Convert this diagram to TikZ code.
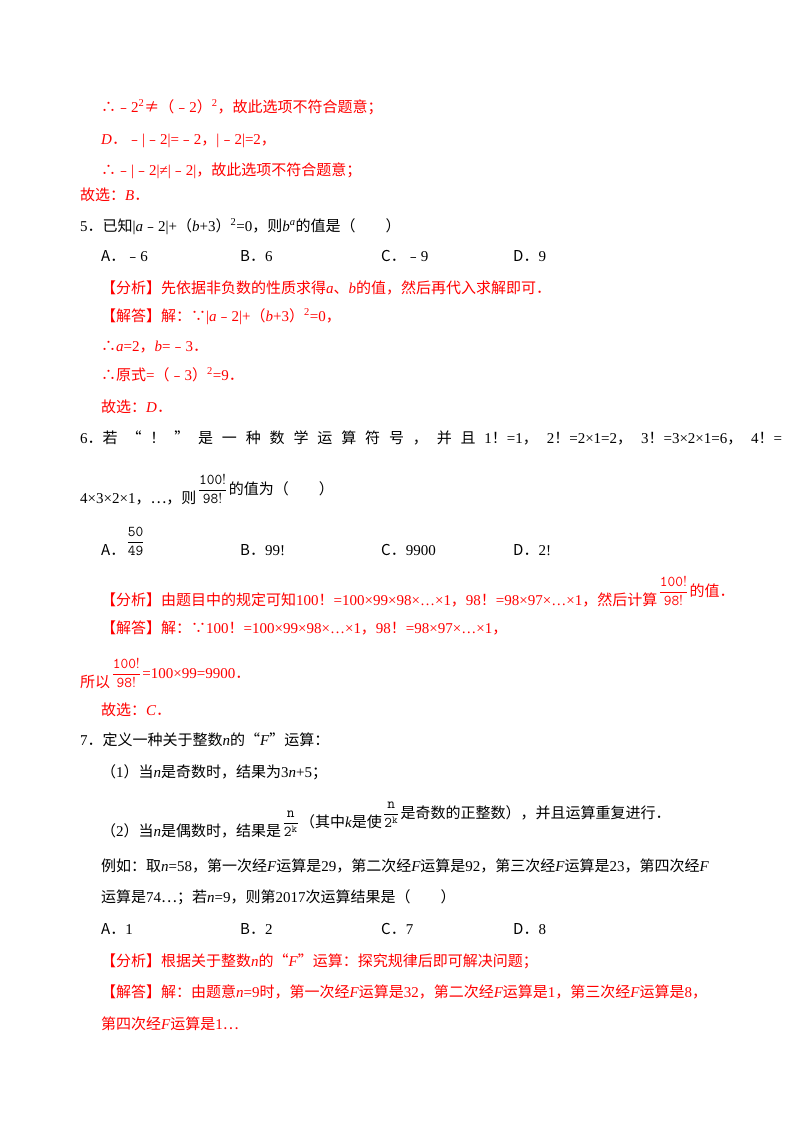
\documentclass[tikz,border=0pt]{standalone}
\usepackage{amsmath}
\usepackage{fontspec}
\setmainfont{Noto Sans CJK SC}
\newfontfamily\lat{Liberation Serif}
\newfontfamily\cjk{Noto Sans CJK SC}
\newcommand{\iv}[1]{{\lat\itshape #1}}
\newcommand{\lr}[1]{{\lat #1}}
\newcommand{\mi}{{\cjk ﹣}}
\newcommand{\fr}[2]{$\genfrac{}{}{0.7pt}{0}{\mathtt{#1}}{\mathtt{#2}}$}
\begin{document}
\begin{tikzpicture}[x=1pt,y=-1pt,
  t/.style={anchor=base west,inner sep=0pt,font=\fontsize{15}{18}\selectfont},
  r/.style={t,text=red},
  f/.style={anchor=base west,inner sep=1pt,yshift=9pt,font=\fontsize{15}{18}\selectfont}]
\useasboundingbox (0,0) rectangle (800,1132);
\fill[white] (0,0) rectangle (800,1132);
\node[r] (l1) at (101,112) {∴\mi\lr{2}\textsuperscript{\lr{2}}≠（\mi\lr{2}）\textsuperscript{\lr{2}}，故此选项不符合题意；};
\node[r] (l2) at (101,144) {\iv{D}．\mi\lr{|}\mi\lr{2|=}\mi\lr{2}，\lr{|}\mi\lr{2|=2}，};
\node[r] (l3) at (101,175) {∴\mi\lr{|}\mi\lr{2|≠|}\mi\lr{2|}，故此选项不符合题意；};
\node[r] (l4) at (80,200) {故选：\iv{B}．};
\node[t] (l5) at (80,231) {\lr{5}．已知\lr{|}\iv{a}\mi\lr{2|+}（\iv{b}\lr{+3}）\textsuperscript{\lr{2}}\lr{=0}，则\iv{b}\textsuperscript{\iv{a}}的值是（　　）};
\node[t] (a5) at (101,261) {A．\mi\lr{6}};
\node[t] (b5) at (240,261) {B．\lr{6}};
\node[t] (c5) at (381,261) {C．\mi\lr{9}};
\node[t] (d5) at (513,261) {D．\lr{9}};
\node[r] (l7) at (101,293) {【分析】先依据非负数的性质求得\iv{a}、\iv{b}的值，然后再代入求解即可．};
\node[r] (l8) at (101,321) {【解答】解：∵\lr{|}\iv{a}\mi\lr{2|+}（\iv{b}\lr{+3}）\textsuperscript{\lr{2}}\lr{=0}，};
\node[r] (l9) at (101,351) {∴\iv{a}\lr{=2}，\iv{b}\lr{=}\mi\lr{3}．};
\node[r] (l10) at (101,380) {∴原式\lr{=}（\mi\lr{3}）\textsuperscript{\lr{2}}\lr{=9}．};
\node[r] (l11) at (101,412) {故选：\iv{D}．};
\node[t] (l12) at (80,443) {\hbox to 702pt{\lr{6}．若\hfill “\hfill ！\hfill ”\hfill 是\hfill 一\hfill 种\hfill 数\hfill 学\hfill 运\hfill 算\hfill 符\hfill 号\hfill ，\hfill 并\hfill 且\hfill \lr{1}！\lr{=1}，\hfill \lr{2}！\lr{=2×1=2}，\hfill \lr{3}！\lr{=3×2×1=6}，\hfill \lr{4}！\lr{=}}};
\node[t] (l13) at (80,503) {\lr{4×3×2×1}，…，则};
\node[f] (q6) at (l13.base east) {\fr{100!}{98!}};
\node[t] (l13b) at (q6.base east) {的值为（　　）};
\node[t] (a6) at (101,555) {A．};
\node[f] (a6f) at (a6.base east) {\fr{50}{49}};
\node[t] (b6) at (240,555) {B．\lr{99!}};
\node[t] (c6) at (381,555) {C．\lr{9900}};
\node[t] (d6) at (513,555) {D．\lr{2!}};
\node[r] (l15) at (101,605) {【分析】由题目中的规定可知\lr{100}！\lr{=100×99×98×…×1}，\lr{98}！\lr{=98×97×…×1}，然后计算};
\node[f,text=red] (f15) at (l15.base east) {\fr{100!}{98!}};
\node[r] (l15b) at (f15.base east) {的值．};
\node[r] (l16) at (101,633) {【解答】解：∵\lr{100}！\lr{=100×99×98×…×1}，\lr{98}！\lr{=98×97×…×1}，};
\node[r] (l17) at (80,687) {所以};
\node[f,text=red] (f17) at (l17.base east) {\fr{100!}{98!}};
\node[r] (l17b) at (f17.base east) {\lr{=100×99=9900}．};
\node[r] (l18) at (101,715) {故选：\iv{C}．};
\node[t] (l19) at (80,745) {\lr{7}．定义一种关于整数\iv{n}的“\iv{F}”运算：};
\node[t] (l20) at (101,777) {（\lr{1}）当\iv{n}是奇数时，结果为\lr{3}\iv{n}\lr{+5}；};
\node[t] (l21) at (101,836) {（\lr{2}）当\iv{n}是偶数时，结果是};
\node[f] (f21) at (l21.base east) {\fr{n}{2^k}};
\node[t] (l21b) at (f21.base east) {（其中\iv{k}是使};
\node[f] (f21b) at (l21b.base east) {\fr{n}{2^k}};
\node[t] (l21c) at (f21b.base east) {是奇数的正整数），并且运算重复进行．};
\node[t] (l22) at (101,871) {例如：取\iv{n}\lr{=58}，第一次经\iv{F}运算是\lr{29}，第二次经\iv{F}运算是\lr{92}，第三次经\iv{F}运算是\lr{23}，第四次经\iv{F}};
\node[t] (l23) at (101,902) {运算是\lr{74}…；若\iv{n}\lr{=9}，则第\lr{2017}次运算结果是（　　）};
\node[t] (a7) at (101,934) {A．\lr{1}};
\node[t] (b7) at (240,934) {B．\lr{2}};
\node[t] (c7) at (381,934) {C．\lr{7}};
\node[t] (d7) at (513,934) {D．\lr{8}};
\node[r] (l25) at (101,966) {【分析】根据关于整数\iv{n}的“\iv{F}”运算：探究规律后即可解决问题；};
\node[r] (l26) at (101,997) {【解答】解：由题意\iv{n}\lr{=9}时，第一次经\iv{F}运算是\lr{32}，第二次经\iv{F}运算是\lr{1}，第三次经\iv{F}运算是\lr{8}，};
\node[r] (l27) at (101,1029) {第四次经\iv{F}运算是\lr{1}…};
\end{tikzpicture}
\end{document}
